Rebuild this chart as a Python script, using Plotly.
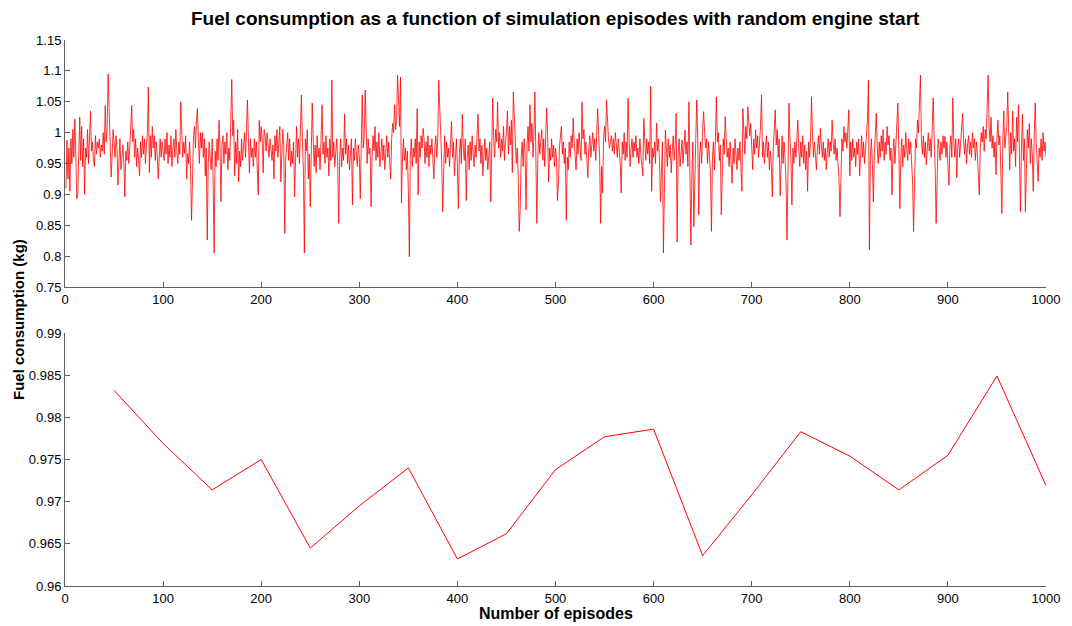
import plotly.graph_objects as go
from plotly.subplots import make_subplots

# ---------------- data ----------------
fuel_001_100 = [0.910,0.988,0.925,0.975,0.905,0.990,0.950,1.005,0.960,1.022,
0.965,0.893,0.900,0.985,1.025,0.955,1.010,0.945,0.990,0.900,
0.975,0.960,1.005,0.950,0.990,1.035,0.970,0.985,0.955,0.945,
0.995,0.965,0.985,0.975,0.990,0.960,0.980,0.970,1.000,0.965,
1.044,0.985,1.010,1.095,1.040,0.990,0.928,0.960,1.005,0.985,
0.960,0.995,0.975,0.915,0.950,0.990,0.940,0.965,0.980,0.950,
0.896,0.970,0.955,0.985,0.950,0.975,1.000,1.044,0.985,1.005,
0.960,0.990,0.945,0.975,0.955,0.930,0.985,0.960,0.995,0.965,
0.990,0.950,0.980,1.000,1.074,0.935,0.995,0.960,1.010,0.975,
0.995,0.955,0.985,0.965,0.925,0.975,0.990,0.960,0.985,0.970]

fuel_101_200 = [0.955,0.990,0.965,1.000,0.950,0.980,0.960,0.995,0.945,0.975,
0.990,0.960,1.005,0.970,0.950,0.985,0.965,1.050,0.990,0.960,
0.985,0.966,0.995,0.925,0.966,0.950,0.985,0.940,0.858,0.960,
0.995,1.010,0.975,1.020,1.039,0.985,0.950,1.000,0.975,1.000,
0.960,0.990,0.930,0.975,0.826,0.950,0.985,0.960,0.940,0.990,
0.925,0.805,0.970,0.945,0.990,0.955,1.020,0.975,0.888,0.980,
0.995,0.950,0.985,0.965,1.000,0.940,0.975,0.955,1.010,1.086,
0.995,1.020,0.930,0.985,0.950,1.005,0.920,0.970,0.945,0.990,
0.955,0.980,1.000,0.960,0.995,1.053,0.985,0.935,0.990,0.960,
0.975,0.945,0.990,0.960,0.985,0.950,0.899,1.020,0.985,1.010]

fuel_201_300 = [0.990,0.935,1.005,0.995,0.970,1.000,0.985,0.960,0.990,0.975,
0.955,0.980,0.925,0.995,0.970,1.005,0.960,0.985,1.010,0.920,
0.975,1.005,0.980,0.837,0.960,0.985,1.000,0.955,0.990,0.945,
0.970,0.950,0.985,0.896,0.975,1.010,0.960,0.990,0.950,1.020,
1.061,0.985,0.940,0.805,0.990,0.970,1.005,0.925,0.965,0.880,
0.995,1.048,0.990,0.945,0.980,0.935,0.995,0.960,0.975,0.940,
0.990,1.045,0.965,0.985,0.950,0.995,0.960,0.975,0.930,0.990,
0.955,1.085,0.960,0.985,0.945,0.970,0.990,0.950,0.853,0.960,
0.990,0.945,0.975,0.955,1.030,0.965,0.990,0.950,0.980,0.940,
0.970,0.990,0.883,0.975,0.955,0.990,0.965,0.945,0.980,0.960]

fuel_301_400 = [0.893,0.990,1.061,0.975,0.995,1.069,0.985,0.950,0.990,0.965,
0.975,0.880,0.960,0.995,0.970,1.010,0.955,0.985,0.960,1.000,
0.945,0.975,0.990,0.955,0.980,0.940,0.970,0.995,0.960,0.985,
0.950,0.925,0.990,1.015,1.000,1.045,1.005,1.020,1.093,1.030,
1.010,1.090,0.886,0.960,0.990,0.955,0.975,0.940,0.970,0.905,
0.799,0.960,0.990,0.945,0.975,0.960,0.990,0.950,1.039,0.899,
0.985,0.960,0.995,0.975,1.007,0.990,0.950,0.985,0.960,0.995,
0.945,0.980,0.965,0.990,0.950,0.925,0.975,0.995,0.960,0.990,
1.085,1.040,0.975,0.955,0.872,0.965,0.995,0.950,0.985,0.960,
0.975,0.945,0.990,1.018,0.960,0.985,0.930,0.970,0.990,0.945]

fuel_401_500 = [0.877,0.965,0.990,0.950,1.030,0.975,0.955,0.990,0.890,0.960,
0.980,0.940,0.985,0.955,0.995,0.965,0.945,0.980,0.960,0.995,
1.030,0.970,0.990,0.950,0.980,0.930,0.965,0.990,0.955,0.975,
0.940,0.960,0.985,0.888,0.975,1.056,0.990,0.960,1.005,0.985,
1.050,0.975,1.000,0.960,0.990,0.970,1.010,0.955,0.985,1.000,
1.035,0.965,1.010,0.980,1.020,0.935,1.066,1.025,0.990,0.950,
0.975,0.930,0.840,0.875,0.960,0.985,0.945,0.990,0.965,0.875,
0.980,1.010,0.970,1.045,0.985,1.015,0.960,0.995,1.066,0.970,
0.853,0.960,1.000,0.965,0.985,1.005,0.955,0.990,0.945,0.980,
1.040,0.995,0.920,0.975,0.955,0.990,0.960,0.980,0.945,0.975]

fuel_501_600 = [0.960,0.890,0.920,0.975,0.990,1.010,0.965,0.985,0.950,0.975,
0.858,0.960,0.940,0.985,0.960,0.995,0.975,1.023,0.985,0.960,
0.940,0.990,0.965,1.000,0.975,0.955,1.050,0.990,1.005,0.965,
0.985,0.950,0.927,0.975,0.995,0.960,0.985,1.000,0.970,0.990,
0.955,1.010,1.039,0.995,0.960,0.853,0.945,0.902,0.990,1.010,
0.985,1.053,1.005,0.990,0.975,0.985,0.995,0.970,0.990,0.965,
1.000,0.980,0.960,0.990,0.970,0.950,0.902,0.985,0.965,1.000,
0.955,0.985,0.960,1.056,0.990,0.945,0.975,0.990,0.960,0.985,
0.970,0.995,0.960,0.975,0.950,0.990,0.965,0.945,0.930,1.023,
0.970,0.955,0.990,0.965,0.985,0.950,1.075,0.905,0.975,0.960]

fuel_601_700 = [0.985,0.950,1.015,0.970,0.990,0.955,0.888,0.960,0.985,0.805,
0.960,1.004,0.975,0.945,0.990,0.960,0.980,0.935,0.970,0.995,
0.955,0.980,1.031,0.823,0.965,0.990,0.945,0.975,0.988,0.950,
0.970,1.004,0.965,0.985,0.945,1.050,0.940,0.818,0.930,0.985,
0.848,0.960,0.990,1.053,0.990,0.867,0.965,0.985,0.950,1.005,
1.034,1.000,0.975,0.990,0.950,0.985,0.960,0.935,0.840,0.960,
0.985,0.940,0.990,1.058,0.985,1.000,0.955,0.980,0.867,0.945,
0.990,0.965,1.026,0.990,0.960,0.975,0.945,0.985,0.955,0.918,
0.975,0.950,0.990,0.960,0.940,0.975,0.955,0.985,0.945,0.905,
1.039,0.985,0.965,1.010,0.990,1.042,1.020,0.995,1.015,0.985]

fuel_701_800 = [0.940,0.990,0.965,1.005,0.975,0.995,0.960,0.985,1.010,1.061,
0.960,0.985,0.950,0.975,0.995,0.960,0.985,0.940,0.970,0.950,
0.896,0.975,1.000,1.037,0.980,1.005,0.960,0.990,0.898,0.975,
0.995,0.950,0.985,0.960,0.920,0.826,0.960,1.048,0.990,0.960,
0.883,0.975,0.950,0.985,0.960,0.990,1.020,0.975,0.945,0.985,
0.960,0.995,0.950,0.980,0.940,0.970,0.905,0.985,0.960,0.990,
1.058,0.995,0.960,0.985,0.955,0.940,0.975,0.995,0.965,1.007,
0.980,0.960,0.985,0.955,0.975,0.940,0.970,0.990,0.960,0.985,
0.970,1.020,0.985,0.965,0.990,0.955,0.975,0.950,0.925,0.864,
0.960,0.990,0.970,1.010,0.985,1.000,0.975,1.015,1.037,0.930]

fuel_801_900 = [0.985,0.955,0.990,0.960,0.975,0.945,0.985,0.965,0.990,0.930,
0.975,0.995,0.960,0.985,0.950,0.975,1.000,1.020,1.085,0.810,
0.960,0.990,0.950,0.888,0.965,0.990,1.031,0.975,0.950,0.985,
0.960,0.995,0.970,1.005,0.955,0.985,0.965,1.010,0.980,0.995,
0.955,0.975,0.899,0.965,0.990,0.950,0.985,1.005,1.048,0.975,
0.877,0.960,0.990,0.945,0.980,0.960,1.000,0.975,0.955,0.990,
0.965,0.985,0.945,0.920,0.840,0.960,0.990,0.975,1.020,1.000,
1.040,1.093,0.990,0.965,0.995,0.960,0.985,0.948,0.975,1.000,
0.970,0.990,0.960,1.015,1.056,0.990,0.945,0.853,0.960,0.990,
0.975,0.955,0.985,0.965,0.995,0.975,0.994,0.960,0.985,0.950]

fuel_901_1000 = [0.915,0.975,0.995,0.960,1.056,0.985,0.960,0.990,0.927,0.975,
0.990,0.960,0.980,1.005,1.031,0.985,0.965,0.990,0.950,0.980,
0.995,0.965,0.985,0.960,1.000,0.975,0.990,0.955,0.985,0.965,
0.940,0.899,0.975,1.000,0.985,1.010,0.970,1.005,0.990,1.030,
1.093,1.010,0.985,1.025,0.975,0.995,0.960,0.985,0.932,0.990,
1.020,0.980,0.995,0.935,0.869,0.990,1.035,0.975,0.995,1.010,
1.066,0.985,0.940,1.000,0.965,1.035,0.970,0.990,0.945,1.025,
0.985,1.045,0.960,0.872,0.975,1.030,0.955,0.990,0.872,0.960,
1.005,0.975,1.015,0.950,0.990,0.965,0.905,0.995,1.048,0.985,
0.960,0.921,0.975,0.960,0.990,0.955,1.000,0.970,0.985,0.961]

avg_episodes = [50, 100, 150, 200, 250, 300, 350, 400, 450, 500,
                550, 600, 650, 700, 750, 800, 850, 900, 950, 1000]
avg_fuel = [0.9832, 0.9769, 0.9714, 0.9750, 0.9645, 0.9695, 0.9740, 0.9632, 0.9662, 0.9738,
            0.9777, 0.9786, 0.9636, 0.9708, 0.9783, 0.9754, 0.9714, 0.9755, 0.9849, 0.9719]

x_ticks = [0, 100, 200, 300, 400, 500, 600, 700, 800, 900, 1000]
top_y_ticks = [0.75, 0.8, 0.85, 0.9, 0.95, 1.0, 1.05, 1.1, 1.15]
top_y_labels = ["0.75", "0.8", "0.85", "0.9", "0.95", "1", "1.05", "1.1", "1.15"]
bot_y_ticks = [0.96, 0.965, 0.97, 0.975, 0.98, 0.985, 0.99]
bot_y_labels = ["0.96", "0.965", "0.97", "0.975", "0.98", "0.985", "0.99"]

title_text = "Fuel consumption as a function of simulation episodes with random engine start"
x_title = "Number of episodes"
y_title = "Fuel consumption (kg)"

# ---------------- figure ----------------
fuel_all = (fuel_001_100 + fuel_101_200 + fuel_201_300 + fuel_301_400 + fuel_401_500 +
            fuel_501_600 + fuel_601_700 + fuel_701_800 + fuel_801_900 + fuel_901_1000)
episodes = list(range(1, len(fuel_all) + 1))

fig = make_subplots(rows=2, cols=1, shared_xaxes=False, vertical_spacing=0.0)
fig.add_trace(go.Scatter(x=episodes, y=fuel_all, mode="lines",
                         line=dict(color="#ff0000", width=0.8), showlegend=False), row=1, col=1)
fig.add_trace(go.Scatter(x=avg_episodes, y=avg_fuel, mode="lines",
                         line=dict(color="#ff0000", width=1), showlegend=False), row=2, col=1)

W, H = 1072, 626
ml, mr, mt, mb = 65, 21, 40, 40
ph = H - mt - mb
top_dom = [1 - (287 - mt) / ph, 1]
bot_dom = [0, (586 - 333) / ph]

FONT = "Liberation Sans, Arial, sans-serif"
axis_font = dict(family=FONT, size=13, color="#000000")
common_x = dict(range=[0, 1000], tickvals=x_ticks, ticks="inside", ticklen=5, tickwidth=1,
                tickcolor="#5f5f5f", showline=True, linecolor="#5f5f5f", linewidth=1,
                showgrid=False, zeroline=False, mirror=False, tickfont=axis_font)
common_y = dict(ticks="inside", ticklen=5, tickwidth=1, tickcolor="#5f5f5f",
                showline=True, linecolor="#5f5f5f", linewidth=1,
                showgrid=False, zeroline=False, mirror=False, tickfont=axis_font)

fig.update_layout(
    width=W, height=H,
    margin=dict(l=ml, r=mr, t=mt, b=mb),
    paper_bgcolor="white", plot_bgcolor="white",
    xaxis=dict(**common_x, anchor="y"),
    yaxis=dict(**common_y, domain=top_dom, range=[0.75, 1.15],
               tickvals=top_y_ticks, ticktext=top_y_labels),
    xaxis2=dict(**common_x, anchor="y2"),
    yaxis2=dict(**common_y, domain=bot_dom, range=[0.96, 0.99],
                tickvals=bot_y_ticks, ticktext=bot_y_labels),
    annotations=[
        dict(text="<b>" + title_text + "</b>", xref="paper", yref="paper",
             x=0.5, y=1, yshift=22, xanchor="center", yanchor="middle", showarrow=False,
             font=dict(family=FONT, size=19, color="black")),
        dict(text="<b>" + x_title + "</b>", xref="paper", yref="paper",
             x=0.5, y=0, yshift=-27, xanchor="center", yanchor="middle", showarrow=False,
             font=dict(family=FONT, size=16, color="black")),
        dict(text="<b>" + y_title + "</b>", xref="paper", yref="paper",
             x=0, xshift=-47, y=(H - mb - 320) / ph, xanchor="center", yanchor="middle",
             textangle=-90, showarrow=False,
             font=dict(family=FONT, size=15, color="black")),
    ],
)

fig.write_html("out.html")
